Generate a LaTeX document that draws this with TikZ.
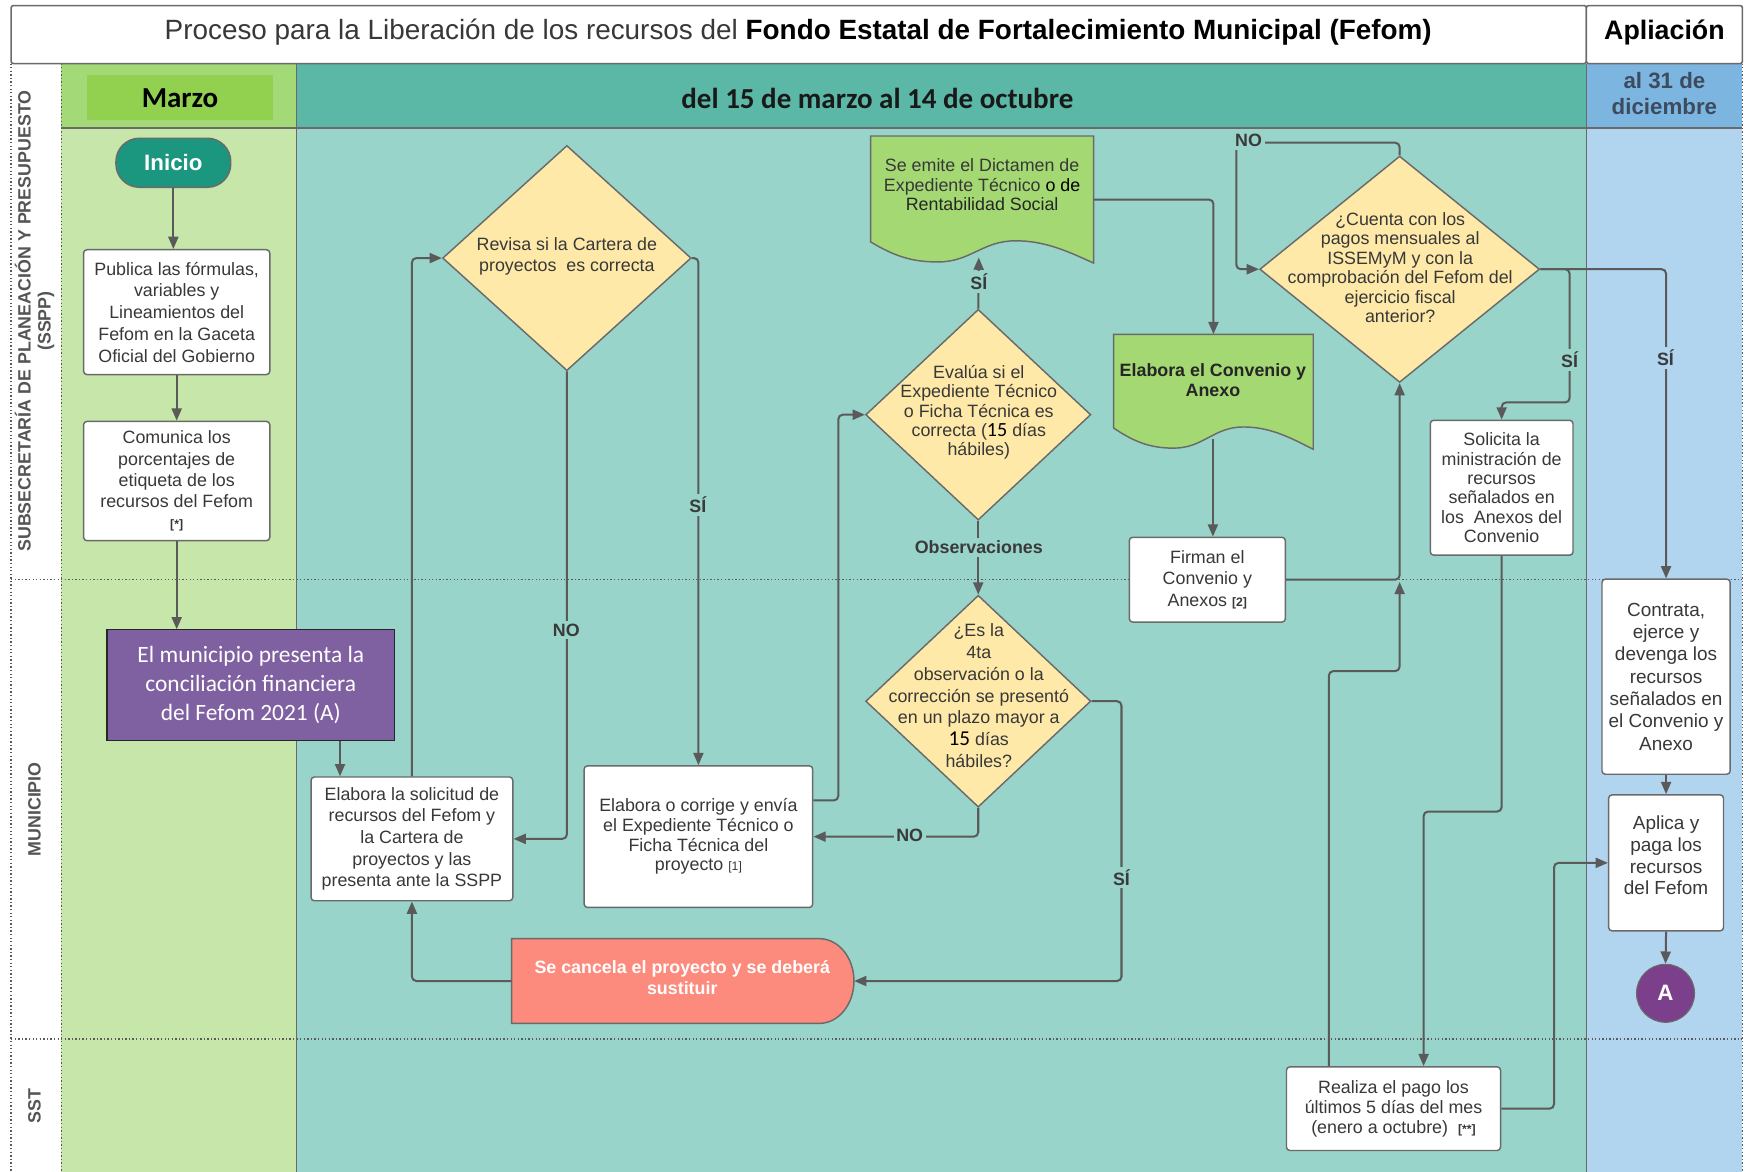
\documentclass[tikz,border=0pt]{standalone}
\usepackage{fontspec}
\setmainfont{Liberation Sans}
\newfontfamily\carlito{Carlito}
\usetikzlibrary{shapes.geometric,arrows.meta}
\definecolor{sspBg}{HTML}{C6E7A9}
\definecolor{marzoHead}{HTML}{A3D977}
\definecolor{marzoBox}{HTML}{92D14F}
\definecolor{midHead}{HTML}{5BB8A6}
\definecolor{midBg}{HTML}{98D4C9}
\definecolor{rightHead}{HTML}{7DB5E1}
\definecolor{rightBg}{HTML}{B1D4EF}
\definecolor{yel}{HTML}{FFE9A8}
\definecolor{docGreen}{HTML}{A3D873}
\definecolor{inicioC}{HTML}{1B967F}
\definecolor{cancelC}{HTML}{FD8B7D}
\definecolor{purpleC}{HTML}{7F60A0}
\definecolor{circA}{HTML}{7B3F8B}
\definecolor{aline}{HTML}{5A5A5A}
\definecolor{bline}{HTML}{6A6A6A}
\definecolor{txt}{HTML}{383838}
\definecolor{labc}{HTML}{3A3A3A}
\definecolor{lanec}{HTML}{555555}
\definecolor{slate}{HTML}{3D4B5E}
\newcommand\fs[2]{\fontsize{#1}{#2}\selectfont}
\newcommand\smallref[1]{{\fontsize{11}{12}\selectfont #1}}
% document shape: L, T, R, yl, options
\newcommand\docshape[5]{%
  \path[#5] (#1,#2) -- (#3,#2) -- (#3,{#4+19})
   .. controls ({#3-0.12*(#3-#1)},{#4+8}) and ({#1+0.78*(#3-#1)},{#4-1}) .. ({#1+0.65*(#3-#1)},{#4-1})
   .. controls ({#1+0.5*(#3-#1)},{#4-1}) and ({#1+0.45*(#3-#1)},{#4+18}) .. ({#1+0.3*(#3-#1)},{#4+18})
   .. controls ({#1+0.18*(#3-#1)},{#4+18}) and ({#1+0.1*(#3-#1)},{#4+12}) .. (#1,#4) -- cycle;}
\begin{document}
\begin{tikzpicture}[x=1pt,y=-1pt,
  box/.style={draw=bline, fill=white, line width=1.3pt, rounded corners=3pt, text=txt, align=center, inner sep=0pt, font=\fs{16}{19.5}},
  dia/.style={diamond, draw=bline, fill=yel, line width=1.3pt, inner sep=0pt},
  dtext/.style={text=txt, align=center, inner sep=0pt, font=\fs{16}{19.5}},
  hole/.style={inner sep=0pt, minimum width=#1},
  arr/.style={draw=aline, line width=1.8pt, rounded corners=4pt, -{Triangle[length=11pt,width=9pt]}},
  lab/.style={font=\fs{16}{18}\bfseries, text=labc, inner sep=2.5pt, fill=midBg},
  lanelab/.style={font=\fs{16}{18}\bfseries, text=lanec, rotate=90, align=center},
  sep/.style={draw=aline, line width=1.2pt, dotted},
  col/.style={draw=bline, line width=1.4pt}
]
\useasboundingbox (0,0) rectangle (1568,1051);
\fill[white] (0,0) rectangle (1568,1051);
% ---------- backgrounds ----------
\fill[white] (10,57) rectangle (55,1051);
\fill[marzoHead] (55,57) rectangle (266,115);
\fill[sspBg] (55,115) rectangle (266,1051);
\fill[midHead] (266,57) rectangle (1423,115);
\fill[midBg] (266,115) rectangle (1423,1051);
\fill[rightHead] (1423,57) rectangle (1563,115);
\fill[rightBg] (1423,115) rectangle (1563,1051);
\fill[marzoBox] (78,67) rectangle (245,108);
% title boxes
\draw[col, fill=white, rounded corners=2pt] (10,5) rectangle (1423,57);
\draw[col, fill=white, rounded corners=2pt] (1423,5) rectangle (1563,57);
\node[font=\fs{25}{29}] (title) at (716,29) {\textcolor{txt}{Proceso para la Liberación de los recursos del} \textbf{Fondo Estatal de Fortalecimiento Municipal (Fefom)}};
\node[font=\fs{24}{28}\bfseries] (apl) at (1493,29) {Apliación};
\node[font=\carlito\fs{26}{30}\bfseries] (marzo) at (161.5,88) {Marzo};
\node[font=\carlito\fs{26}{30}\bfseries, text=black!90] (periodo) at (787,88) {del 15 de marzo al 14 de octubre};
\node[font=\fs{20}{24}\bfseries, text=slate, align=center] (dic) at (1493,84) {al 31 de\\diciembre};
% grid lines
\draw[col] (55,115) -- (1563,115);
\draw[col] (266,57) -- (266,1051);
\draw[col] (1423,57) -- (1423,1051);
\draw[sep] (10,57) -- (10,1051);
\draw[sep] (55,57) -- (55,1051);
\draw[sep] (1563,57) -- (1563,1051);
\draw[sep] (10,520) -- (1563,520);
\draw[sep] (10,932) -- (1563,932);
% lane labels
\node[lanelab] (l1) at (31,288) {SUBSECRETARÍA DE PLANEACIÓN Y PRESUPUESTO\\(SSPP)};
\node[lanelab] (l2) at (31,726) {MUNICIPIO};
\node[lanelab] (l3) at (31,992) {SST};
% ---------- nodes ----------
\node[fill=inicioC, draw=bline, line width=1.3pt, rounded corners=21pt, minimum width=103, minimum height=44, text=white, font=\fs{20}{24}\bfseries] (inicio) at (155.5,146) {Inicio};
\node[box, minimum width=167, minimum height=112] (publica) at (158.5,280) {Publica las fórmulas,\\variables y\\Lineamientos del\\Fefom en la Gaceta\\Oficial del Gobierno};
\node[box, minimum width=167, minimum height=107, font=\fs{16}{19}] (comunica) at (158.5,431.5) {Comunica los\\porcentajes de\\etiqueta de los\\recursos del Fefom\\\smallref{\textbf{[*]}}};
\node[fill=purpleC, draw=black!85, line width=1pt, minimum width=258, minimum height=99, text=white, align=center, font=\carlito\fs{21}{26}] (purple) at (225,614.5) {El municipio presenta la\\conciliación financiera\\del Fefom 2021 (A)};
\node[box, minimum width=181, minimum height=111] (solicitud) at (369.5,752.5) {Elabora la solicitud de\\recursos del Fefom y\\la Cartera de\\proyectos y las\\presenta ante la SSPP};
\node[dia, minimum width=223, minimum height=202] (revisa) at (508.5,231.5) {};
\node[dtext] (revisaT) at (508.5,230) {Revisa si la Cartera de\\proyectos\ \ es correcta};
\node[box, minimum width=205, minimum height=127, font=\fs{16}{17.6}] (corrige) at (626.5,750.5) {Elabora o corrige y envía\\el Expediente Técnico o\\Ficha Técnica del\\proyecto \smallref{[1]}};
% cancel shape
\path[fill=cancelC, draw=bline, line width=1.3pt] (459,842) -- (735,842) arc[start angle=-90, end angle=90, x radius=31, y radius=38] -- (459,918) -- cycle;
\node[hole=307, minimum height=76] (cancel) at (612.5,880) {};
\node[text=white, align=center, font=\fs{16}{19}\bfseries] (cancelT) at (612,877) {Se cancela el proyecto y se deberá\\sustituir};
% dictamen document
\docshape{781}{122}{981}{217}{fill=docGreen, draw=bline, line width=1.3pt}
\node[hole=200, minimum height=114] (dict) at (881,179) {};
\node[dtext, font=\fs{16}{17.5}] (dictT) at (881,166) {Se emite el Dictamen de\\Expediente Técnico \textcolor{black}{o de}\\\textcolor{black!85}{Rentabilidad Social}};
\coordinate (dictbot) at (878,231);
\node[dia, minimum width=202, minimum height=189] (evalua) at (877.5,372) {};
\node[dtext, font=\fs{16}{17.3}] (evaluaT) at (878,370) {Evalúa si el\\Expediente Técnico\\o Ficha Técnica es\\correcta ({\carlito\fontsize{18}{17.3}\selectfont\color{black}15} días\\hábiles)};
\node[dia, minimum width=202, minimum height=190] (esla) at (877.5,629) {};
\node[dtext] (eslaT) at (878,624) {¿Es la\\4ta\\observación o la\\corrección se presentó\\en un plazo mayor a\\{\carlito\fontsize{19}{19.5}\selectfont\color{black}15} días\\hábiles?};
% convenio document
\docshape{999}{300}{1178}{384}{fill=docGreen, draw=bline, line width=1.3pt}
\node[hole=179, minimum height=102] (conv) at (1088.5,351) {};
\node[dtext, font=\fs{16}{18}\bfseries, text=black!85] (convT) at (1088,341) {Elabora el Convenio y\\Anexo};
\coordinate (convbot) at (1088,394);
\node[box, minimum width=140, minimum height=76] (firman) at (1083,520) {Firman el\\Convenio y\\Anexos \smallref{\textbf{[2]}}};
\node[dia, minimum width=251, minimum height=203] (cuenta) at (1255.5,241.5) {};
\node[dtext, font=\fs{16}{17.4}] (cuentaT) at (1256,240) {¿Cuenta con los\\pagos mensuales al\\ISSEMyM y con la\\comprobación del Fefom del\\ejercicio fiscal\\anterior?};
\node[box, minimum width=128, minimum height=121, font=\fs{16}{17.4}] (solicita) at (1347,437.5) {Solicita la\\ministración de\\recursos\\señalados en\\los\ \ Anexos del\\Convenio};
\node[box, minimum width=115, minimum height=175, font=\fs{17}{20}] (contrata) at (1494.5,607) {Contrata,\\ejerce y\\devenga los\\recursos\\señalados en\\el Convenio y\\Anexo};
\node[box, minimum width=103, minimum height=122, font=\fs{17}{19.5}] (aplica) at (1494.5,774) {Aplica y\\paga los\\recursos\\del Fefom\\[-6pt]};
\node[circle, fill=circA, draw=bline, line width=1pt, minimum size=52, inner sep=0pt, text=white, font=\fs{20}{24}\bfseries] (A) at (1494,891) {A};
\node[box, minimum width=192, minimum height=75, font=\fs{16}{18}] (realiza) at (1250,994.5) {Realiza el pago los\\últimos 5 días del mes\\(enero a octubre)\ \ \smallref{\textbf{[**]}}};
\coordinate (merge) at (1255.5,522);
% ---------- connectors ----------
\draw[arr] (inicio.south) -- (inicio.south |- publica.north);
\draw[arr] (publica.south) -- (comunica.north);
\draw[arr] (comunica.south) -- (comunica.south |- purple.north);
\draw[arr] ([xshift=80pt]purple.south) -- ([xshift=80pt]purple.south |- solicitud.north);
\draw[arr] (solicitud.north) |- (revisa.west);
\draw[arr] (revisa.south) |- (solicitud.east);
\draw[arr] (revisa.east) -| (corrige.north);
\draw[arr] ([yshift=32.5pt]corrige.east) -- (752,718) |- (evalua.west);
\draw[arr] (evalua.north) -- (dictbot);
\draw[arr] (evalua.south) -- (esla.north);
\draw[arr] (esla.south) |- (corrige.east);
\draw[arr] (esla.east) -- (1006,629) |- (cancel.east);
\draw[arr] (cancel.west) -| (solicitud.south);
\draw[arr] (dict.east) -| (conv.north);
\draw[arr] (convbot) -- (convbot |- firman.north);
\draw[arr] (firman.east) -| (cuenta.south);
\draw[arr] (cuenta.north) |- (1109,128) -- (1109,241.5) -- (cuenta.west);
\draw[arr] (cuenta.east) -- (1408,241.5) -- (1408,361) -| (solicita.north);
\draw[arr] (cuenta.east) -| (contrata.north);
\draw[arr] (solicita.south) -- (1347,728) -| ([xshift=27pt]realiza.north);
\draw[arr] ([xshift=-58pt]realiza.north) -- (1192,602) -| (merge);
\draw[arr] (realiza.east) -- (1394,994.5) |- (aplica.west);
\draw[arr] (contrata.south) -- (aplica.north);
\draw[arr] (aplica.south) -- (A.north);
% ---------- labels ----------
\node[lab] (n1) at (508,565) {NO};
\node[lab] (s1) at (626,453) {SÍ};
\node[lab] (s2) at (878,253) {SÍ};
\node[lab] (obs) at (878,491) {Observaciones};
\node[lab] (n2) at (816,749) {NO};
\node[lab] (s3) at (1006,787) {SÍ};
\node[lab] (n3) at (1120,126) {NO};
\node[lab] (s4) at (1408,323) {SÍ};
\node[lab, fill=rightBg] (s5) at (1494,321) {SÍ};
\end{tikzpicture}
\end{document}
